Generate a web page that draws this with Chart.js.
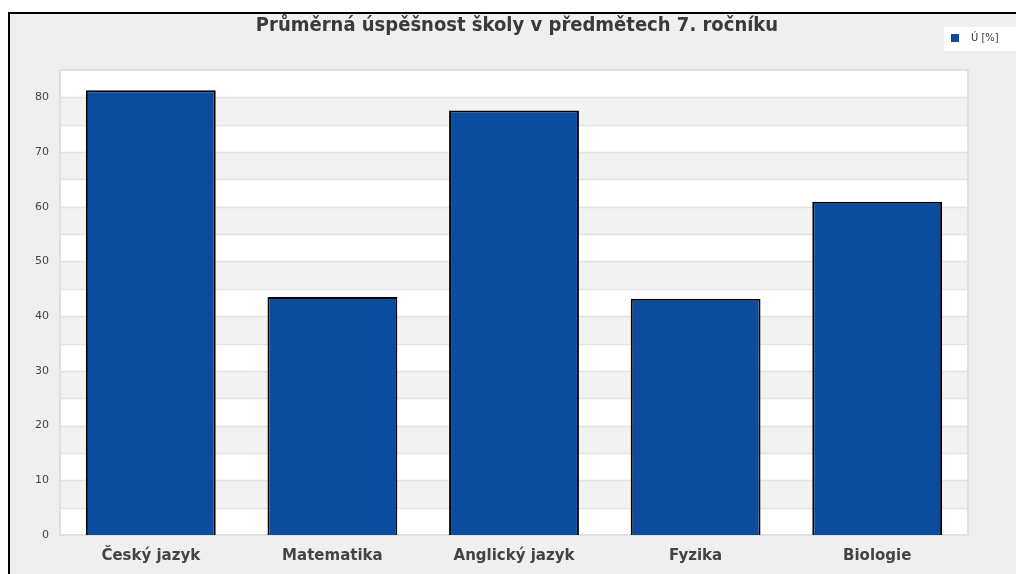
<!DOCTYPE html>
<html lang="cs">
<head>
<meta charset="utf-8">
<title>Průměrná úspěšnost školy v předmětech 7. ročníku</title>
<script src="https://cdn.jsdelivr.net/npm/chart.js@4/dist/chart.umd.min.js"></script>
<style>
    html, body { margin: 0; padding: 0; background: #fff; overflow: hidden; }
    #wrap { position: relative; width: 1016px; height: 574px; }
</style>
</head>
<body>
<div id="wrap"><canvas id="chart" width="1016" height="574"></canvas></div>
<script>
"use strict";

// ── Données ──
const predmety  = ["Český jazyk", "Matematika", "Anglický jazyk", "Fyzika", "Biologie"];
const uspesnost = [81.3, 43.5, 77.6, 43.2, 60.9];
const yTicks    = [0, 10, 20, 30, 40, 50, 60, 70, 80];
const serieNom  = "Ú [%]";
const titulek   = "Průměrná úspěšnost školy v předmětech 7. ročníku";

const BAR_COLOR = "#0c4c9f";

// fond gris + cadre noir (coin haut-gauche seulement visible) + titre centré sur le cadre
const framePlugin = {
    id: "frame",
    beforeDraw(chart) {
        const ctx = chart.ctx;
        ctx.save();
        ctx.fillStyle = "#fff";
        ctx.fillRect(0, 0, chart.width, chart.height);
        ctx.fillStyle = "#efefef";
        ctx.fillRect(9, 13, chart.width - 9, chart.height - 13);
        ctx.strokeStyle = "#000";
        ctx.lineWidth = 2;
        ctx.beginPath();
        ctx.moveTo(9, chart.height);
        ctx.lineTo(9, 13);
        ctx.lineTo(chart.width, 13);
        ctx.stroke();

        ctx.fillStyle = "#3a3a3a";
        ctx.font = "bold 20px 'DejaVu Sans Condensed', 'DejaVu Sans', sans-serif";
        ctx.textAlign = "center";
        ctx.textBaseline = "middle";
        ctx.fillText(titulek, 517, 26);
        ctx.restore();
    }
};

// bandes alternées dans la zone du graphique
const bandsPlugin = {
    id: "bands",
    beforeDatasetsDraw(chart) {
        const { ctx, chartArea: a, scales: { y } } = chart;
        ctx.save();
        ctx.fillStyle = "#fff";
        ctx.fillRect(a.left, a.top, a.right - a.left, a.bottom - a.top);
        ctx.fillStyle = "#f2f2f2";
        for (let v = 5; v < y.max; v += 10) {
            const top = y.getPixelForValue(Math.min(v + 5, y.max));
            const bot = y.getPixelForValue(v);
            ctx.fillRect(a.left, top, a.right - a.left, bot - top);
        }
        ctx.strokeStyle = "#e2e2e2";
        ctx.lineWidth = 1.5;
        for (let v = 5; v < y.max; v += 5) {
            const py = Math.round(y.getPixelForValue(v)) + 0.5;
            ctx.beginPath(); ctx.moveTo(a.left, py); ctx.lineTo(a.right, py); ctx.stroke();
        }
        ctx.lineWidth = 2;
        ctx.strokeStyle = "#e0e0e0";
        ctx.strokeRect(a.left, a.top, a.right - a.left, a.bottom - a.top);
        ctx.restore();
    }
};

// légende dans un encadré blanc en haut à droite
const legendPlugin = {
    id: "boxLegend",
    afterDraw(chart) {
        const ctx = chart.ctx;
        const ds = chart.data.datasets[0];
        ctx.save();
        ctx.fillStyle = "#fff";
        ctx.fillRect(944, 27, chart.width - 944, 24);
        ctx.fillStyle = ds.backgroundColor;
        ctx.fillRect(951, 34, 8, 8);
        ctx.fillStyle = "#333";
        ctx.font = "11px 'DejaVu Sans Condensed', 'DejaVu Sans', sans-serif";
        ctx.textBaseline = "middle";
        ctx.fillText(ds.label, 971, 38.5);
        ctx.restore();
    }
};

new Chart(document.getElementById("chart"), {
    type: "bar",
    data: {
        labels: predmety,
        datasets: [{
            label: serieNom,
            data: uspesnost,
            backgroundColor: BAR_COLOR,
            borderColor: "#000",
            borderWidth: 2,
            borderSkipped: "bottom",
            barPercentage: 0.715,
            categoryPercentage: 1
        }]
    },
    options: {
        responsive: false,
        animation: false,
        devicePixelRatio: 1,
        layout: { padding: { left: 8, right: 48, top: 70, bottom: 0 } },
        plugins: {
            legend: { display: false },
            tooltip: { enabled: false },
            title: { display: false }
        },
        scales: {
            x: {
                grid: { display: false, drawTicks: false },
                border: { display: false },
                ticks: {
                    color: "#444",
                    padding: 12,
                    font: { family: "'DejaVu Sans', sans-serif", size: 15, weight: "bold" }
                },
                afterFit(s) { s.height = 39; }
            },
            y: {
                min: 0,
                max: 85,
                grid: { display: false, drawTicks: false },
                border: { display: false },
                ticks: {
                    stepSize: 5,
                    color: "#444",
                    padding: 11,
                    font: { family: "'DejaVu Sans', sans-serif", size: 11 },
                    callback: v => yTicks.includes(v) ? String(v) : ""
                },
                afterFit(s) { s.width = 52; }
            }
        }
    },
    plugins: [framePlugin, bandsPlugin, legendPlugin]
});
</script>
</body>
</html>
